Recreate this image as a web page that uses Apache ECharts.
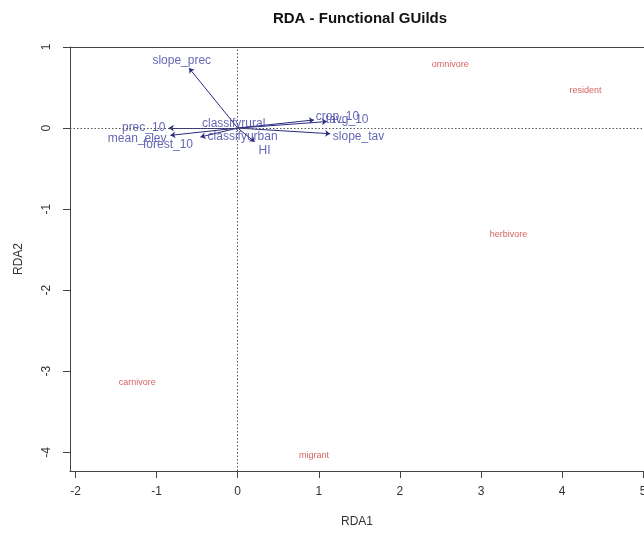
<!DOCTYPE html>
<html><head><meta charset="utf-8">
<script src="https://cdn.jsdelivr.net/npm/echarts@6/dist/echarts.min.js"></script>
<style>html,body{margin:0;padding:0;background:#fff}#c{width:644px;height:534px}</style>
</head><body><div id="c"></div>
<script>
// Species (functional guild) scores
const speciesNames = ['omnivore','resident','herbivore','carnivore','migrant'];
const speciesX = [2.62, 4.29, 3.34, -1.24, 0.94];
const speciesY = [0.78, 0.46, -1.31, -3.14, -4.04];

// Biplot arrows (environmental variables): arrow tips and label positions
const envNames = ['slope_prec','crop_10','tavg_10','slope_tav','prec_10','mean_elev','forest_10','HI'];
const envX = [-0.60, 0.94, 1.10, 1.14, -0.85, -0.83, -0.46, 0.21];
const envY = [0.74, 0.10, 0.08, -0.07, 0.00, -0.09, -0.11, -0.17];
const envLabelX = [-0.69, 1.23, 1.35, 1.49, -1.16, -1.24, -0.86, 0.33];
const envLabelY = [0.83, 0.14, 0.10, -0.11, 0.00, -0.13, -0.21, -0.28];

// Factor centroids (text only)
const centroidNames = ['classifyrural','classifyurban'];
const centroidX = [-0.05, 0.06];
const centroidY = [0.06, -0.11];

// Tick values
const xTicks = [-2,-1,0,1,2,3,4,5];
const yTicks = [-4,-3,-2,-1,0,1];

const blue = '#3f3fa4';
const font = 'Liberation Sans, Arial, sans-serif';

const chart = echarts.init(document.getElementById('c'));
chart.setOption({
  animation: false,
  backgroundColor: '#fff',
  title: {
    text: 'RDA - Functional GUilds', left: 355, top: 6, textAlign: 'center',
    textStyle: {fontFamily: font, fontSize: 15, fontWeight: 'bold', color: '#111'}
  },
  grid: {left: 70, top: 47, right: 0, bottom: 63, show: false, outerBoundsMode: 'none', containLabel: false},
  xAxis: [{
    type: 'value', min: -2.068, max: 5.01,
    name: 'RDA1', nameLocation: 'middle', nameGap: 45,
    nameTextStyle: {fontFamily: font, fontSize: 12, color: '#333'},
    axisLine: {show: true, onZero: false, lineStyle: {color: '#444'}},
    axisTick: {show: true, length: 7, inside: false, customValues: xTicks, lineStyle: {color: '#444'}},
    axisLabel: {customValues: xTicks, margin: 15, fontFamily: font, fontSize: 12, color: '#333', showMinLabel: true, showMaxLabel: true, hideOverlap: false},
    splitLine: {show: false}
  }, {
    type: 'value', position: 'top', min: -2.068, max: 5.01,
    axisLine: {show: true, onZero: false, lineStyle: {color: '#444'}},
    axisTick: {show: false}, axisLabel: {show: false}, splitLine: {show: false}
  }],
  yAxis: {
    type: 'value', min: -4.23, max: 1.0,
    name: 'RDA2', nameLocation: 'middle', nameGap: 45, nameRotate: 90,
    nameTextStyle: {fontFamily: font, fontSize: 12, color: '#333'},
    axisLine: {show: true, onZero: false, lineStyle: {color: '#444'}},
    axisTick: {show: true, length: 7, inside: false, customValues: yTicks, lineStyle: {color: '#444'}},
    axisLabel: {customValues: yTicks, rotate: 90, margin: 17, fontFamily: font, fontSize: 12, color: '#333', showMinLabel: true, showMaxLabel: true},
    splitLine: {show: false}
  },
  series: [
    {
      type: 'scatter', symbolSize: 0, silent: true,
      data: [],
      markLine: {
        silent: true, symbol: 'none', label: {show: false},
        lineStyle: {type: [1.5, 2], color: '#555', width: 1},
        data: [{xAxis: 0}, {yAxis: 0}]
      }
    },
    {
      type: 'lines', coordinateSystem: 'cartesian2d', silent: true,
      symbol: ['none', 'arrow'], symbolSize: 5,
      lineStyle: {color: '#2b2b80', width: 1, opacity: 1, curveness: 0},
      data: envNames.map((n, i) => ({coords: [[0, 0], [envX[i], envY[i]]]}))
    },
    {
      type: 'scatter', symbolSize: 0, silent: true,
      label: {show: true, position: 'inside', formatter: p => p.data[2], fontFamily: font, fontSize: 12, color: blue},
      data: envNames.map((n, i) => [envLabelX[i], envLabelY[i], n])
    },
    {
      type: 'scatter', symbolSize: 0, silent: true,
      label: {show: true, position: 'inside', formatter: p => p.data[2], fontFamily: font, fontSize: 12, color: blue},
      data: centroidNames.map((n, i) => [centroidX[i], centroidY[i], n])
    },
    {
      type: 'scatter', symbolSize: 0, silent: true,
      label: {show: true, position: 'inside', formatter: p => p.data[2], fontFamily: font, fontSize: 9, color: '#cc3838'},
      data: speciesNames.map((n, i) => [speciesX[i], speciesY[i], n])
    }
  ]
});
</script></body></html>
